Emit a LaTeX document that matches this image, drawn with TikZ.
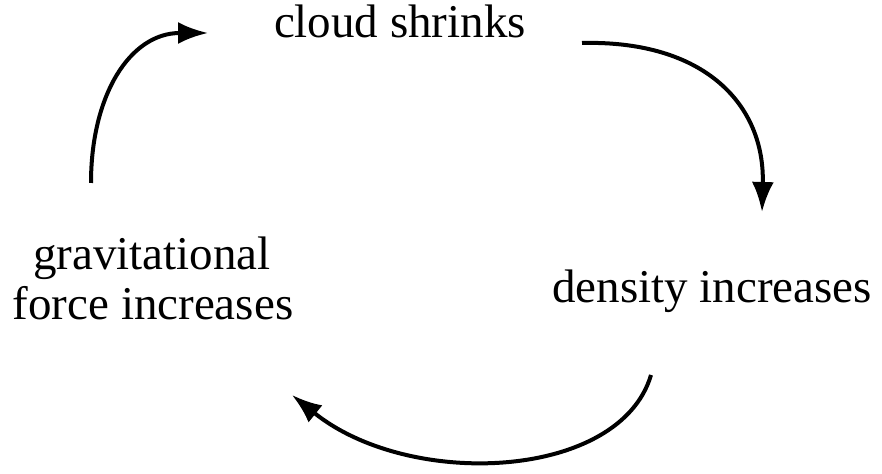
\documentclass[tikz,border=0pt]{standalone}
\usepackage{fontspec}
\setmainfont{Liberation Serif}
\usetikzlibrary{arrows.meta}
\begin{document}
\begin{tikzpicture}[x=0.5pt,y=-0.5pt,
  lbl/.style={anchor=base,inner sep=0pt,font=\fontsize{23.5}{25}\selectfont},
  cyc/.style={line width=2pt,-{Latex[length=15pt,width=11pt]}}]
\useasboundingbox (0,0) rectangle (882,474);
\node[lbl] (cloud) at (400,38) {cloud shrinks};
\node[lbl] (grav) at (152,270) {gravitational};
\node[lbl] (force) at (153,320) {force increases};
\node[lbl] (dens) at (712,303) {density increases};
\coordinate (a1s) at (91,183);
\coordinate (a1e) at (208,33);
\coordinate (a2s) at (582,43);
\coordinate (a2e) at (762,212);
\coordinate (a3s) at (651,375);
\coordinate (a3e) at (292,395);
\draw[cyc] (a1s) .. controls (91,95) and (130,33) .. (a1e);
\draw[cyc] (a2s) .. controls (705,40) and (765,105) .. (a2e);
\draw[cyc] (a3s) .. controls (620,480) and (410,490) .. (a3e);
\end{tikzpicture}
\end{document}
